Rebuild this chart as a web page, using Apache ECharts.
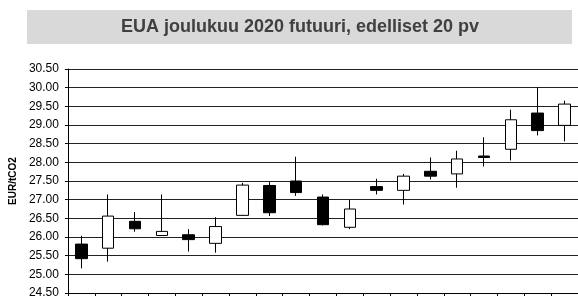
<!DOCTYPE html>
<html>
<head>
<meta charset="utf-8">
<script src="https://cdn.jsdelivr.net/npm/echarts@6/dist/echarts.min.js"></script>
<style>
    html, body { margin: 0; padding: 0; background: #fff; }
    #chart { width: 578px; height: 299px; }
</style>
</head>
<body>
<div id="chart"></div>
<script>
    /*EUA futuuri, päivittäiset kurssit*/
    var days = ['1', '2', '3', '4', '5', '6', '7', '8', '9', '10',
        '11', '12', '13', '14', '15', '16', '17', '18', '19'];
    var openVals  = [25.81, 25.70, 26.42, 26.04, 26.06, 25.83, 26.58, 27.38, 27.50, 27.07,
        26.26, 27.35, 27.25, 27.76, 27.69, 28.17, 28.35, 29.32, 28.99];
    var closeVals = [25.42, 26.56, 26.22, 26.15, 25.93, 26.28, 27.39, 26.65, 27.19, 26.33,
        26.75, 27.25, 27.63, 27.63, 28.09, 28.13, 29.14, 28.85, 29.56];
    var lowVals   = [25.16, 25.34, 26.14, 26.04, 25.61, 25.58, 26.56, 26.56, 27.10, 26.31,
        26.21, 27.14, 26.87, 27.54, 27.32, 27.89, 28.05, 28.72, 28.56];
    var highVals  = [26.03, 27.14, 26.67, 27.14, 26.21, 26.53, 27.45, 27.47, 28.15, 27.14,
        27.00, 27.56, 27.69, 28.13, 28.31, 28.67, 29.41, 30.01, 29.65];

    var fontName = '"Liberation Sans", Arial, sans-serif';

    var candleData = [];
    for (var i = 0; i < days.length; i++) {
        candleData.push([openVals[i], closeVals[i], lowVals[i], highVals[i]]);
    }

    var chart = echarts.init(document.getElementById('chart'));
    var option = {
        animation: false,
        graphic: [
            {
                type: 'rect',
                shape: { x: 27, y: 10, width: 545, height: 34 },
                style: { fill: '#d9d9d9' },
                z: 0
            },
            {
                type: 'text',
                x: 300,
                y: 27,
                style: {
                    text: 'EUA joulukuu 2020 futuuri, edelliset 20 pv',
                    font: 'bold 18px ' + fontName,
                    fill: '#404040',
                    textAlign: 'center',
                    textVerticalAlign: 'middle'
                },
                z: 1
            }
        ],
        grid: {
            left: 62,
            right: 0,
            top: 69,
            bottom: 5
        },
        xAxis: {
            type: 'category',
            data: days,
            boundaryGap: true,
            axisLine: { show: true, lineStyle: { color: '#000', width: 1 } },
            axisTick: { show: true, length: 3, lineStyle: { color: '#000' } },
            axisLabel: { show: false },
            splitLine: { show: false }
        },
        yAxis: {
            type: 'value',
            min: 24.5,
            max: 30.5,
            interval: 0.5,
            name: 'EUR/tCO2',
            nameLocation: 'middle',
            nameGap: 45,
            nameRotate: 90,
            nameTextStyle: {
                fontFamily: fontName,
                fontWeight: 'bold',
                fontSize: 10,
                color: '#000'
            },
            axisLine: { show: true, lineStyle: { color: '#000', width: 1 } },
            axisTick: { show: true, length: 3, lineStyle: { color: '#000' } },
            axisLabel: {
                margin: 9,
                fontFamily: fontName,
                fontSize: 12,
                color: '#000',
                formatter: function (v) { return v.toFixed(2); }
            },
            splitLine: { show: true, lineStyle: { color: '#222', width: 1 } }
        },
        series: [
            {
                type: 'candlestick',
                barWidth: 12,
                data: candleData,
                itemStyle: {
                    color: '#fff',
                    color0: '#000',
                    borderColor: '#000',
                    borderColor0: '#000',
                    borderWidth: 1
                }
            }
        ]
    };
    chart.setOption(option);
</script>
</body>
</html>
